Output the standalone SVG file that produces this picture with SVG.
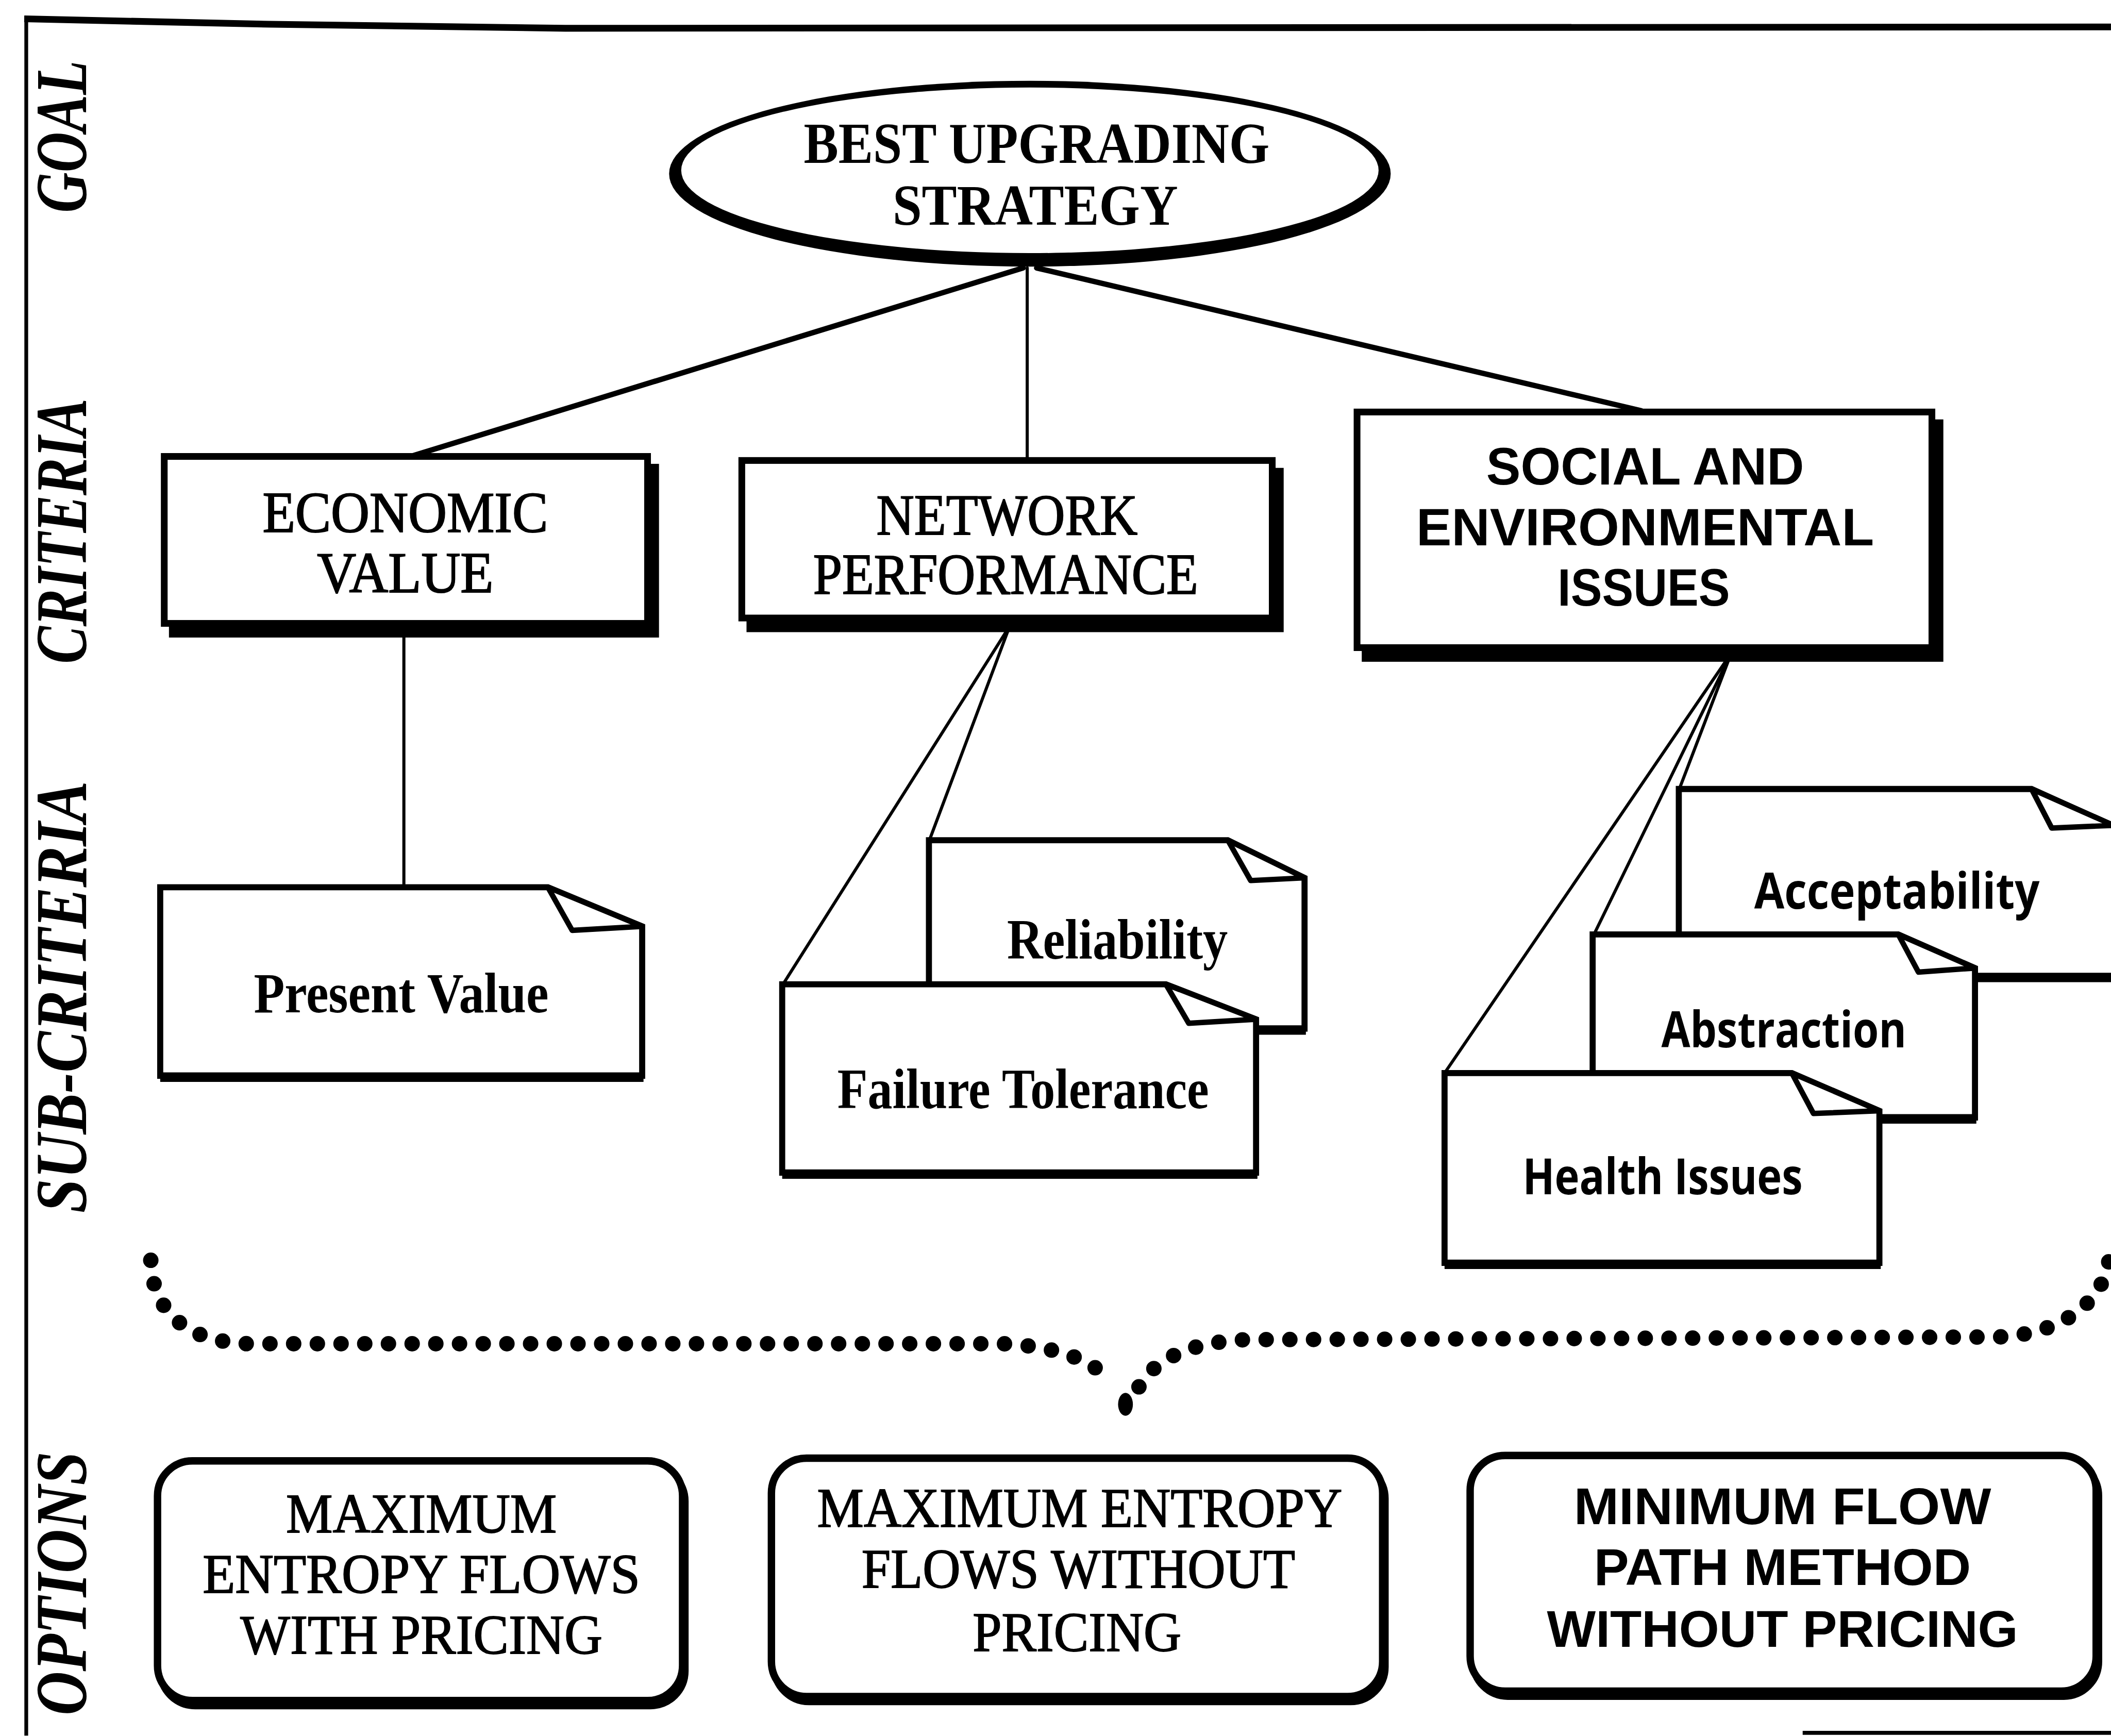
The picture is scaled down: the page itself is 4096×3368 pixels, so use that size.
<svg xmlns="http://www.w3.org/2000/svg" width="4096" height="3368" viewBox="0 0 4096 3368">
  <defs>
    <style>
      .frame { fill: none; stroke: #000; stroke-linecap: butt; }
      .link { fill: none; stroke: #000; stroke-linecap: round; }
      .shadow { fill: #000; stroke: #000; stroke-width: 5; }
      .box { fill: #fff; stroke: #000; stroke-width: 5; }
      .opt { fill: #fff; stroke: #000; stroke-width: 5.5; }
      .doc { fill: #fff; stroke: #000; stroke-width: 4.5; stroke-linejoin: miter; }
      .base { fill: none; stroke: #000; stroke-width: 7; }
      .fold { fill: #fff; stroke: #000; stroke-width: 4; stroke-linejoin: round; }
      .dots { fill: none; stroke: #000; stroke-width: 11.5; stroke-linecap: round; stroke-dasharray: 0 17.6; }
      text { fill: #000; text-anchor: middle; }
      .side { font-family: "Liberation Serif", serif; font-weight: bold; font-style: italic; font-size: 54px; text-anchor: start; }
      .goal { font-family: "Liberation Serif", serif; font-weight: bold; font-size: 43px; }
      .crit { font-family: "Liberation Serif", serif; font-size: 43px; stroke: #000; stroke-width: 0.8px; }
      .crit-s { font-family: "Liberation Sans", Arial, sans-serif; font-weight: bold; font-size: 39px; }
      .sub { font-family: "Liberation Serif", serif; font-weight: bold; font-size: 42px; }
      .sub-s { font-family: "Open Sans", "DejaVu Sans", sans-serif; font-weight: bold; font-size: 37px; }
      .optx { font-family: "Liberation Serif", serif; font-size: 41px; stroke: #000; stroke-width: 0.7px; }
      .optx-s { font-family: "Liberation Sans", Arial, sans-serif; font-weight: bold; font-size: 38px; }
    </style>
  </defs>

  <rect width="4096" height="3368" fill="#fff"/>

  <g transform="scale(2.6122)">
    <!-- outer frame -->
    <g id="frame">
      <polyline class="frame" stroke-width="5" points="18,14 200,18 420,21 1568,20"/>
      <line class="frame" stroke-width="2.8" x1="19.5" y1="12" x2="19.5" y2="1289"/>
      <line class="frame" stroke-width="3" x1="1339" y1="1287" x2="1568" y2="1287"/>
    </g>

    <!-- level labels along the left edge -->
    <g id="levels">
      <text class="side" transform="translate(64,158) rotate(-90)" textLength="113" lengthAdjust="spacingAndGlyphs">GOAL</text>
      <text class="side" transform="translate(64,493) rotate(-90)" textLength="197" lengthAdjust="spacingAndGlyphs">CRITERIA</text>
      <text class="side" transform="translate(64,901) rotate(-90)" textLength="321" lengthAdjust="spacingAndGlyphs">SUB-CRITERIA</text>
      <text class="side" transform="translate(64,1274) rotate(-90)" textLength="196" lengthAdjust="spacingAndGlyphs">OPTIONS</text>
    </g>

    <!-- connectors -->
    <g id="connectors">
      <line class="link" stroke-width="4" x1="760" y1="199" x2="305" y2="339"/>
      <line class="link" stroke-width="2.3" x1="763" y1="199" x2="763" y2="341"/>
      <line class="link" stroke-width="4" x1="770" y1="199" x2="1219" y2="305"/>
      <line class="link" stroke-width="2.3" x1="300" y1="470" x2="300" y2="659"/>
      <line class="link" stroke-width="2.3" x1="750" y1="465" x2="581" y2="732"/>
      <line class="link" stroke-width="2.3" x1="750" y1="465" x2="690" y2="625"/>
      <line class="link" stroke-width="2.3" x1="1286" y1="485" x2="1073" y2="797"/>
      <line class="link" stroke-width="2.3" x1="1286" y1="485" x2="1184" y2="694"/>
      <line class="link" stroke-width="2.3" x1="1286" y1="485" x2="1247" y2="587"/>
    </g>

    <!-- goal -->
    <g id="goal">
      <ellipse cx="765" cy="129" rx="268" ry="69" fill="#000"/>
      <ellipse cx="765" cy="126.5" rx="259" ry="61.5" fill="#fff"/>
      <text class="goal" x="770" y="121" textLength="346" lengthAdjust="spacingAndGlyphs">BEST UPGRADING</text>
      <text class="goal" x="769" y="167" textLength="212" lengthAdjust="spacingAndGlyphs">STRATEGY</text>
    </g>

    <!-- criteria -->
    <g id="economic-value">
      <rect class="shadow" x="128" y="347" width="359" height="124"/>
      <rect class="box" x="122" y="339" width="359" height="124"/>
      <text class="crit" x="301" y="395" textLength="212" lengthAdjust="spacingAndGlyphs">ECONOMIC</text>
      <text class="crit" x="301" y="440" textLength="131" lengthAdjust="spacingAndGlyphs">VALUE</text>
    </g>
    <g id="network-performance">
      <rect class="shadow" x="557" y="350" width="394" height="117"/>
      <rect class="box" x="551" y="342" width="394" height="117"/>
      <text class="crit" x="748" y="397" textLength="194" lengthAdjust="spacingAndGlyphs">NETWORK</text>
      <text class="crit" x="747" y="441" textLength="286" lengthAdjust="spacingAndGlyphs">PERFORMANCE</text>
    </g>
    <g id="social-environmental">
      <rect class="shadow" x="1014" y="314" width="427" height="175"/>
      <rect class="box" x="1008" y="306" width="427" height="175"/>
      <text class="crit-s" x="1222" y="360" textLength="236" lengthAdjust="spacingAndGlyphs">SOCIAL AND</text>
      <text class="crit-s" x="1222" y="405" textLength="340" lengthAdjust="spacingAndGlyphs">ENVIRONMENTAL</text>
      <text class="crit-s" x="1221" y="450" textLength="128" lengthAdjust="spacingAndGlyphs">ISSUES</text>
    </g>

    <!-- sub-criteria: pages with a turned corner -->
    <g id="present-value">
      <path class="doc" d="M119,799 L119,659 L407,659 L477,688 L477,799 Z"/>
      <line class="base" x1="119" y1="800" x2="478" y2="800"/>
      <polygon class="fold" points="407,659 425,691 477,688"/>
      <text class="sub" x="298" y="752" textLength="219" lengthAdjust="spacingAndGlyphs">Present Value</text>
    </g>
    <g id="reliability">
      <path class="doc" d="M690,764 L690,624 L912,624 L969,652 L969,764 Z"/>
      <line class="base" x1="690" y1="765" x2="970" y2="765"/>
      <polygon class="fold" points="912,624 929,654 969,652"/>
      <text class="sub" x="830" y="712" textLength="164" lengthAdjust="spacingAndGlyphs">Reliability</text>
    </g>
    <g id="failure-tolerance">
      <path class="doc" d="M581,871 L581,731 L866,731 L933,757 L933,871 Z"/>
      <line class="base" x1="581" y1="872" x2="934" y2="872"/>
      <polygon class="fold" points="866,731 883,760 933,757"/>
      <text class="sub" x="760" y="823" textLength="276" lengthAdjust="spacingAndGlyphs">Failure Tolerance</text>
    </g>
    <g id="acceptability">
      <path class="doc" d="M1247,725 L1247,586 L1509,586 L1600,627 L1600,725 Z"/>
      <line class="base" x1="1247" y1="726" x2="1600" y2="726"/>
      <polygon class="fold" points="1509,586 1524,615 1570,613"/>
      <text class="sub-s" x="1409" y="675" textLength="212" lengthAdjust="spacingAndGlyphs">Acceptability</text>
    </g>
    <g id="abstraction">
      <path class="doc" d="M1183,830 L1183,694 L1410,694 L1467,719 L1467,830 Z"/>
      <line class="base" x1="1183" y1="831" x2="1468" y2="831"/>
      <polygon class="fold" points="1410,694 1425,722 1467,719"/>
      <text class="sub-s" x="1325" y="778" textLength="182" lengthAdjust="spacingAndGlyphs">Abstraction</text>
    </g>
    <g id="health-issues">
      <path class="doc" d="M1073,938 L1073,797 L1331,797 L1396,825 L1396,938 Z"/>
      <line class="base" x1="1073" y1="939" x2="1397" y2="939"/>
      <polygon class="fold" points="1331,797 1347,827 1396,825"/>
      <text class="sub-s" x="1235" y="887" textLength="208" lengthAdjust="spacingAndGlyphs">Health Issues</text>
    </g>

    <!-- dotted brace gathering the sub-criteria onto the options -->
    <g id="brace">
      <path class="dots" d="M112,936 C113,975 140,997 185,998 L745,998 C785,1000 812,1010 826,1027"/>
      <path class="dots" d="M846,1030 C856,1012 880,997 925,995 L1484,993 C1530,991 1564,968 1567,932"/>
      <ellipse cx="836" cy="1043" rx="5.5" ry="8.5"/>
    </g>

    <!-- options -->
    <g id="option-entropy-pricing">
      <rect class="shadow" x="119" y="1089" width="390" height="178" rx="26" stroke-width="5.5"/>
      <rect class="opt" x="117" y="1085" width="390" height="178" rx="26"/>
      <text class="optx" x="313" y="1138" textLength="201" lengthAdjust="spacingAndGlyphs">MAXIMUM</text>
      <text class="optx" x="313" y="1183" textLength="325" lengthAdjust="spacingAndGlyphs">ENTROPY FLOWS</text>
      <text class="optx" x="313" y="1228" textLength="269" lengthAdjust="spacingAndGlyphs">WITH PRICING</text>
    </g>
    <g id="option-entropy-no-pricing">
      <rect class="shadow" x="575" y="1087" width="454" height="177" rx="26" stroke-width="5.5"/>
      <rect class="opt" x="573" y="1083" width="454" height="177" rx="26"/>
      <text class="optx" x="802" y="1134" textLength="390" lengthAdjust="spacingAndGlyphs">MAXIMUM ENTROPY</text>
      <text class="optx" x="801" y="1179" textLength="322" lengthAdjust="spacingAndGlyphs">FLOWS WITHOUT</text>
      <text class="optx" x="800" y="1226" textLength="155" lengthAdjust="spacingAndGlyphs">PRICING</text>
    </g>
    <g id="option-min-flow-path">
      <rect class="shadow" x="1094" y="1085" width="465" height="175" rx="26" stroke-width="5.5"/>
      <rect class="opt" x="1092" y="1081" width="465" height="175" rx="26"/>
      <text class="optx-s" x="1324" y="1132" textLength="310" lengthAdjust="spacingAndGlyphs">MINIMUM FLOW</text>
      <text class="optx-s" x="1324" y="1177" textLength="280" lengthAdjust="spacingAndGlyphs">PATH METHOD</text>
      <text class="optx-s" x="1324" y="1223" textLength="350" lengthAdjust="spacingAndGlyphs">WITHOUT PRICING</text>
    </g>
  </g>
</svg>
